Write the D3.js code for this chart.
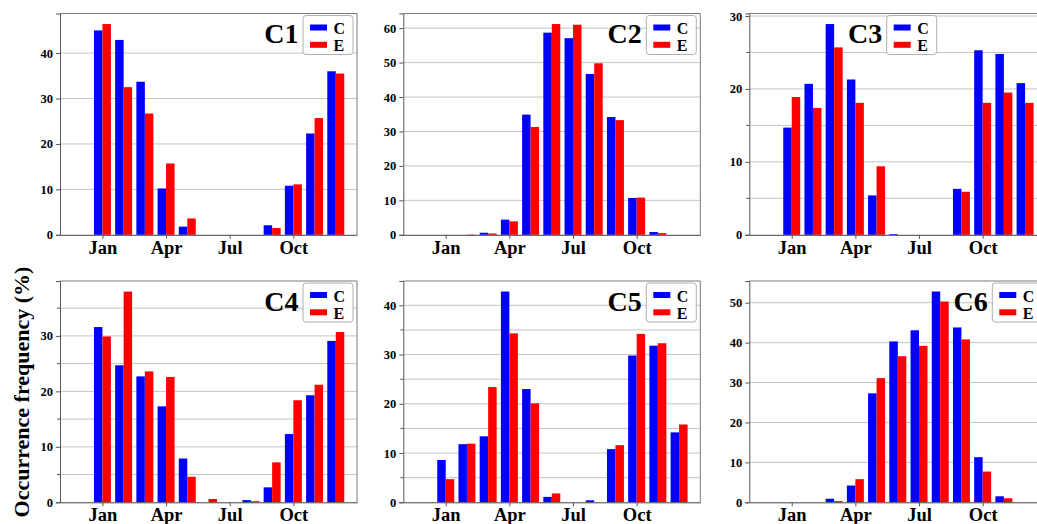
<!DOCTYPE html>
<html>
<head>
<meta charset="utf-8">
<script src="https://cdn.jsdelivr.net/npm/d3@7"></script>
<style>
  html, body { margin: 0; padding: 0; background: #fff; }
  svg { display: block; }
  text { font-family: "Liberation Serif", "Times New Roman", serif; font-weight: bold; fill: #000; }
</style>
</head>
<body>
<script>
// Monthly occurrence frequency (%) for each cluster, C and E series
const monthIndex = [1, 2, 3, 4, 5, 6, 7, 8, 9, 10, 11, 12];
const tickMonths = [1, 4, 7, 10];
const tickLabels = ["Jan", "Apr", "Jul", "Oct"];
const seriesNames = ["C", "E"];
const panelNames = ["C1", "C2", "C3", "C4", "C5", "C6"];

const c1C = [45.0, 42.9, 33.7, 10.2, 1.8, 0, 0, 0, 2.1, 10.8, 22.3, 36.0];
const c1E = [46.4, 32.5, 26.7, 15.7, 3.6, 0, 0, 0, 1.5, 11.1, 25.7, 35.5];
const c2C = [0, 0, 0.6, 4.4, 34.9, 58.7, 57.1, 46.7, 34.2, 10.7, 0.8, 0];
const c2E = [0, 0.1, 0.4, 3.9, 31.3, 61.2, 61.0, 49.8, 33.3, 10.8, 0.5, 0];
const c3C = [14.7, 20.7, 28.9, 21.3, 5.4, 0.1, 0, 0, 6.3, 25.3, 24.8, 20.8];
const c3E = [18.9, 17.4, 25.7, 18.1, 9.4, 0, 0, 0, 5.9, 18.1, 19.5, 18.1];
const c4C = [31.6, 24.7, 22.7, 17.3, 7.9, 0, 0, 0.4, 2.7, 12.3, 19.3, 29.1];
const c4E = [29.9, 38.0, 23.6, 22.6, 4.6, 0.6, 0, 0.2, 7.2, 18.4, 21.2, 30.7];
const c5C = [8.6, 11.8, 13.4, 42.8, 23.0, 1.1, 0, 0.4, 10.8, 29.8, 31.8, 14.2];
const c5E = [4.7, 11.9, 23.4, 34.3, 20.1, 1.8, 0, 0, 11.6, 34.2, 32.3, 15.8];
const c6C = [0, 0, 0.9, 4.2, 27.3, 40.3, 43.1, 52.8, 43.8, 11.3, 1.5, 0];
const c6E = [0, 0, 0.3, 5.8, 31.1, 36.6, 39.2, 50.3, 40.8, 7.7, 1.0, 0];

const seriesByPanel = [[c1C, c1E], [c2C, c2E], [c3C, c3E], [c4C, c4E], [c5C, c5E], [c6C, c6E]];
const colors = ["#0000ff", "#ff0000"];

// layout of the 2x3 grid of axes
const colLeft = [60, 403.3, 749.3];
const rowTop = [13.5, 281];
const axW = 297, axH = 221.3;
const gridStep = [10, 10, 5, 5, 5, 10];
// legend placement: offset from the axes left edge, or null for upper-right
const legendOffset = [null, null, 137.4, null, null, null];

const svg = d3.select("body").append("svg")
  .attr("width", 1037).attr("height", 524);

panelNames.forEach((name, i) => {
  const col = i % 3, row = Math.floor(i / 3);
  const L = colLeft[col], T = rowTop[row], B = T + axH, R = L + axW;
  const [sC, sE] = seriesByPanel[i];
  const yMax = 1.05 * d3.max(sC.concat(sE));

  const x = d3.scaleLinear().domain([-1, 13]).range([L, R]);
  const y = d3.scaleLinear().domain([0, yMax]).range([B, T]);
  const g = svg.append("g");

  // horizontal grid
  const gridVals = d3.range(gridStep[i], yMax, gridStep[i]);
  g.append("g").selectAll("line").data(gridVals).join("line")
    .attr("x1", L).attr("x2", R)
    .attr("y1", d => y(d)).attr("y2", d => y(d))
    .attr("stroke", "#c4c4c4").attr("stroke-width", 1);

  // grouped bars: C left of the month, E right of it
  [sC, sE].forEach((vals, k) => {
    g.append("g").selectAll("rect").data(vals).join("rect")
      .attr("x", (d, j) => x(monthIndex[j] + (k === 0 ? -0.4 : 0)))
      .attr("width", x(0.4) - x(0))
      .attr("y", d => y(d))
      .attr("height", d => y(0) - y(d))
      .attr("fill", colors[k]);
  });

  // frame
  g.append("line").attr("x1", L).attr("x2", R).attr("y1", T).attr("y2", T).attr("stroke", "#7a7a7a");
  g.append("line").attr("x1", R).attr("x2", R).attr("y1", T).attr("y2", B).attr("stroke", "#7a7a7a");

  // y axis with major labels every 10 and minor ticks between
  const majors = d3.range(0, yMax, 10);
  const yAxis = d3.axisLeft(y).tickValues(majors).tickFormat(d3.format("d"))
    .tickSize(4).tickPadding(3);
  const ya = g.append("g").attr("transform", `translate(${L},0)`).call(yAxis);
  if (gridStep[i] === 5) {
    const minors = d3.range(5, yMax, 10);
    ya.append("g").selectAll("line").data(minors).join("line")
      .attr("x1", -3).attr("x2", 0)
      .attr("y1", d => y(d)).attr("y2", d => y(d))
      .attr("stroke", "#555");
  }
  ya.select(".domain").attr("stroke", "#555");
  ya.selectAll(".tick line").attr("stroke", "#555");
  ya.selectAll("text").attr("font-size", 12.5)
    .style("font-family", '"Liberation Serif", serif').style("font-weight", "bold");

  // x axis
  const xAxis = d3.axisBottom(x).tickValues(tickMonths)
    .tickFormat((d, j) => tickLabels[j]).tickSize(4).tickPadding(2).tickSizeOuter(0);
  const xa = g.append("g").attr("transform", `translate(0,${B})`).call(xAxis);
  xa.select(".domain").attr("stroke", "#444");
  xa.selectAll(".tick line").attr("stroke", "#555");
  xa.selectAll("text").attr("font-size", 18.5)
    .style("font-family", '"Liberation Serif", serif').style("font-weight", "bold");

  // legend box
  const lw = 50, lh = 39;
  const lx = legendOffset[i] === null ? R - 4 - lw : L + legendOffset[i];
  const ly = T + 2;
  const lg = g.append("g");
  lg.append("rect").attr("x", lx).attr("y", ly).attr("width", lw).attr("height", lh)
    .attr("rx", 3).attr("fill", "#fff").attr("fill-opacity", 0.85)
    .attr("stroke", "#b0b0b0");
  seriesNames.forEach((s, k) => {
    lg.append("rect").attr("x", lx + 7).attr("y", ly + 9 + k * 17.3)
      .attr("width", 17).attr("height", 6).attr("fill", colors[k]);
    lg.append("text").attr("x", lx + 30.5).attr("y", ly + 18.5 + k * 17.3)
      .attr("font-size", 16).text(s);
  });

  // panel title
  g.append("text").attr("x", lx - 4.5).attr("y", T + 29.5)
    .attr("text-anchor", "end").attr("font-size", 28).text(name);
});

svg.append("text")
  .attr("transform", "translate(29,392) rotate(-90)")
  .attr("text-anchor", "middle").attr("font-size", 22)
  .text("Occurrence frequency (%)");
</script>
</body>
</html>
